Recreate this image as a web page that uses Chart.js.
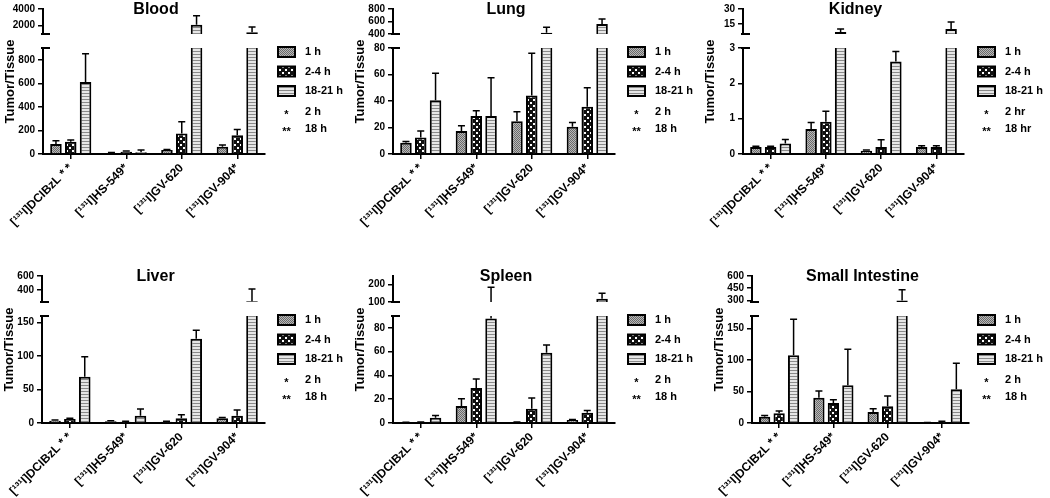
<!DOCTYPE html>
<html>
<head>
<meta charset="utf-8">
<script src="https://cdn.jsdelivr.net/npm/chart.js@4.4.0/dist/chart.umd.min.js"></script>
<style>
  body { margin: 0; background: #fff; }
  #fig { position: relative; width: 1050px; height: 498px; overflow: hidden; }
  #fig canvas { position: absolute; }
</style>
</head>
<body>
<div id="fig">
  <canvas id="blood" width="350" height="250" style="left:0;top:0"></canvas>
  <canvas id="lung" width="350" height="250" style="left:350px;top:0"></canvas>
  <canvas id="kidney" width="350" height="250" style="left:700px;top:0"></canvas>
  <canvas id="liver" width="350" height="248" style="left:0;top:250px"></canvas>
  <canvas id="spleen" width="350" height="248" style="left:350px;top:250px"></canvas>
  <canvas id="intestine" width="350" height="248" style="left:700px;top:250px"></canvas>
</div>
<script>
// --- data ---
const groups = ['[¹³¹I]DCIBzL * *', '[¹³¹I]HS-549*', '[¹³¹I]GV-620', '[¹³¹I]GV-904*'];
const seriesNames = ['1 h', '2-4 h', '18-21 h'];
const noteMarks = ['*', '**'];
const noteNames = ['2 h', '18 h'];
const kidneyNoteNames = ['2 hr', '18 hr'];

// rows: 1 h, 2-4 h, 18-21 h ; columns follow groups
const bloodMean = [[85, 8, 34, 62], [104, 20, 175, 160], [611, 14, 2100, 1200]];
const bloodSd = [[28, 4, 5, 14], [14, 5, 98, 48], [240, 20, 1100, 650]];
const bloodRange = [0, 900, 1000, 4000]; // lower min, lower max, upper min, upper max
const bloodLowTicks = [0, 200, 400, 600, 800];
const bloodHighTicks = [2000, 4000];

const lungMean = [[8.5, 17.3, 24.8, 20.6], [12.5, 28.6, 44.1, 35.6], [40.6, 28.6, 420, 560]];
const lungSd = [[1, 4, 7, 3.2], [4.8, 4, 32, 14.4], [20.4, 29, 90, 80]];
const lungRange = [0, 80, 400, 800];
const lungLowTicks = [0, 20, 40, 60, 80];
const lungHighTicks = [400, 600, 800];

const kidneyMean = [[0.2, 0.71, 0.09, 0.2], [0.2, 0.91, 0.2, 0.2], [0.3, 7, 2.62, 10]];
const kidneySd = [[0.02, 0.18, 0.02, 0.03], [0.02, 0.3, 0.2, 0.03], [0.11, 3, 0.28, 7]];
const kidneyRange = [0, 3, 5, 30];
const kidneyLowTicks = [0, 1, 2, 3];
const kidneyHighTicks = [15, 30];

const liverMean = [[3.5, 2.5, 2, 7], [6, 2, 7, 11], [69, 11, 126, 240]];
const liverSd = [[1, 1, 0.5, 1.4], [1, 0.5, 5.4, 8.4], [30, 10, 12.6, 174]];
const liverRange = [0, 160, 230, 600];
const liverLowTicks = [0, 50, 100, 150];
const liverHighTicks = [400, 600];

const spleenMean = [[0.5, 14.2, 0.6, 2.5], [0.5, 29.4, 12, 8.6], [4.4, 88, 59, 119]];
const spleenSd = [[0.2, 6.1, 0.3, 0.5], [0.3, 7.6, 9, 1.9], [2, 97, 6.6, 32]];
const spleenRange = [0, 90, 100, 250];
const spleenLowTicks = [0, 20, 40, 60, 80];
const spleenHighTicks = [100, 200];

const intestineMean = [[10, 40.3, 17.5, 0.5], [15.4, 31.8, 26.5, 1.6], [107.6, 60, 300, 53.5]];
const intestineSd = [[2, 10.7, 5.3, 0.2], [3.6, 5.2, 16.5, 1], [57.4, 57, 130, 41.5]];
const intestineRange = [0, 170, 280, 600];
const intestineLowTicks = [0, 50, 100, 150];
const intestineHighTicks = [300, 450, 600];

// --- layout of the 2 x 3 grid ---
const rows = [
  { top: 9, seg: [25, 14, 106], xAxisH: 96 },
  { top: 26, seg: [26, 14, 107], xAxisH: 75 }
];
const panels = [
  { id: 'blood', title: 'Blood', mean: bloodMean, sd: bloodSd, range: bloodRange, low: bloodLowTicks, high: bloodHighTicks, notes: noteNames, row: 0, axisX: 43, plotRight: 265 },
  { id: 'lung', title: 'Lung', mean: lungMean, sd: lungSd, range: lungRange, low: lungLowTicks, high: lungHighTicks, notes: noteNames, row: 0, axisX: 43, plotRight: 265 },
  { id: 'kidney', title: 'Kidney', mean: kidneyMean, sd: kidneySd, range: kidneyRange, low: kidneyLowTicks, high: kidneyHighTicks, notes: kidneyNoteNames, row: 0, axisX: 43, plotRight: 264 },
  { id: 'liver', title: 'Liver', mean: liverMean, sd: liverSd, range: liverRange, low: liverLowTicks, high: liverHighTicks, notes: noteNames, row: 1, axisX: 42, plotRight: 265 },
  { id: 'spleen', title: 'Spleen', mean: spleenMean, sd: spleenSd, range: spleenRange, low: spleenLowTicks, high: spleenHighTicks, notes: noteNames, row: 1, axisX: 43, plotRight: 265 },
  { id: 'intestine', title: 'Small Intestine', mean: intestineMean, sd: intestineSd, range: intestineRange, low: intestineLowTicks, high: intestineHighTicks, notes: noteNames, row: 1, axisX: 52, plotRight: 269 }
];

const FONT = '"Liberation Sans", Arial, Helvetica, sans-serif';
Chart.defaults.font.family = FONT;
Chart.defaults.color = '#000';

// fill patterns: fine grey, black with white dots, horizontal stripes
function makePattern(kind) {
  const c = document.createElement('canvas');
  const g = c.getContext('2d');
  if (kind === 0) {
    c.width = 2; c.height = 2;
    g.fillStyle = '#b8b8b8'; g.fillRect(0, 0, 2, 2);
    g.fillStyle = '#6a6a6a'; g.fillRect(0, 0, 1, 1); g.fillRect(1, 1, 1, 1);
  } else if (kind === 1) {
    c.width = 6; c.height = 6;
    g.fillStyle = '#111'; g.fillRect(0, 0, 6, 6);
    g.fillStyle = '#fff'; g.fillRect(0, 0, 2, 2); g.fillRect(3, 3, 2, 2);
  } else {
    c.width = 3; c.height = 3;
    g.fillStyle = '#e6e6e6'; g.fillRect(0, 0, 3, 3);
    g.fillStyle = '#8a8a8a'; g.fillRect(0, 0, 3, 1);
  }
  return g.createPattern(c, 'repeat');
}
const patterns = [0, 1, 2].map(makePattern);

// error bars (upper whisker only)
function drawErrorBars(chart, meta) {
  const ds = chart.data.datasets[meta.index];
  const ctx = chart.ctx;
  ctx.save();
  ctx.strokeStyle = '#000';
  ctx.lineWidth = 1.5;
  meta.data.forEach((bar, i) => {
    const yTop = meta.yScale.getPixelForValue(ds.data[i] + ds.sd[i]);
    ctx.beginPath();
    ctx.moveTo(bar.x, bar.y);
    ctx.lineTo(bar.x, yTop);
    ctx.moveTo(bar.x - 3.5, yTop);
    ctx.lineTo(bar.x + 3.5, yTop);
    ctx.stroke();
  });
  ctx.restore();
}

// each dataset is clipped to its own axis segment (broken axis)
const segmentClip = {
  id: 'segmentClip',
  beforeDatasetDraw(chart, args) {
    const y = args.meta.yScale;
    const a = chart.chartArea;
    const extra = y.id === 'yLow' ? 2 : 0;
    chart.ctx.save();
    chart.ctx.beginPath();
    chart.ctx.rect(a.left, y.top, a.right - a.left + 2, y.bottom - y.top + extra);
    chart.ctx.clip();
  },
  afterDatasetDraw(chart, args) {
    drawErrorBars(chart, args.meta);
    chart.ctx.restore();
  }
};

// title, axis title, break marks and the side legend
function makeDecor(p) {
  return {
    id: 'decor',
    afterDraw(chart) {
      const ctx = chart.ctx;
      const a = chart.chartArea;
      const hi = chart.scales.yHigh;
      const lo = chart.scales.yLow;
      ctx.save();
      ctx.fillStyle = '#000';
      ctx.strokeStyle = '#000';
      ctx.textBaseline = 'middle';

      ctx.font = 'bold 16px ' + FONT;
      ctx.textAlign = 'center';
      ctx.fillText(p.title, (a.left + a.right) / 2 + 2, hi.top + 1);

      ctx.save();
      ctx.translate(p.axisX - 33, (hi.top + lo.bottom) / 2);
      ctx.rotate(-Math.PI / 2);
      ctx.font = 'bold 13px ' + FONT;
      ctx.fillText('Tumor/Tissue', 0, 0);
      ctx.restore();

      ctx.lineWidth = 2;
      ctx.beginPath();
      [hi.bottom, lo.top].forEach(y => {
        ctx.moveTo(a.left - 2, y);
        ctx.lineTo(a.left + 7, y);
      });
      ctx.stroke();

      const lx = 278;
      const boxRows = [4, 23.5, 43];
      ctx.font = 'bold 11px ' + FONT;
      ctx.textAlign = 'left';
      seriesNames.forEach((name, i) => {
        const cy = lo.top + boxRows[i];
        ctx.fillStyle = patterns[i];
        ctx.fillRect(lx, cy - 5, 17, 10);
        ctx.lineWidth = 2;
        ctx.strokeRect(lx, cy - 5, 17, 10);
        ctx.fillStyle = '#000';
        ctx.fillText(name, lx + 27, cy);
      });
      const noteRows = [64, 81];
      p.notes.forEach((name, i) => {
        const cy = lo.top + noteRows[i];
        ctx.textAlign = 'center';
        ctx.fillText(noteMarks[i], lx + 8.5, cy + 3);
        ctx.textAlign = 'left';
        ctx.fillText(name, lx + 27, cy);
      });
      ctx.restore();
    }
  };
}

function yAxis(p, which) {
  const row = rows[p.row];
  const isLow = which === 'low';
  return {
    type: 'linear',
    position: 'left',
    stack: 'y',
    stackWeight: isLow ? row.seg[2] : row.seg[0],
    weight: isLow ? 0 : 2,
    stacked: false,
    min: isLow ? p.range[0] : p.range[2],
    max: isLow ? p.range[1] : p.range[3],
    afterBuildTicks: s => { s.ticks = (isLow ? p.low : p.high).map(v => ({ value: v })); },
    afterFit: s => { s.width = p.axisX; },
    ticks: {
      autoSkip: false,
      font: { size: 10, weight: 'bold' },
      color: '#000',
      padding: 3,
      callback: v => String(v)
    },
    grid: { drawOnChartArea: false, color: '#000', lineWidth: 1.5, tickLength: 5 },
    border: { color: '#000', width: 2 }
  };
}

panels.forEach(p => {
  const row = rows[p.row];
  const sets = [];
  ['yLow', 'yHigh'].forEach(axisId => {
    seriesNames.forEach((name, i) => {
      sets.push({
        label: name,
        data: p.mean[i],
        sd: p.sd[i],
        yAxisID: axisId,
        stack: 'g' + i,
        backgroundColor: patterns[i],
        borderColor: '#000',
        borderWidth: 2,
        categoryPercentage: 0.8,
        barPercentage: 0.78
      });
    });
  });

  new Chart(document.getElementById(p.id), {
    type: 'bar',
    data: { labels: groups, datasets: sets },
    options: {
      responsive: false,
      animation: false,
      devicePixelRatio: 1,
      layout: { padding: { left: 0, top: row.top, right: 350 - p.plotRight, bottom: 0 } },
      plugins: { legend: { display: false }, tooltip: { enabled: false } },
      scales: {
        x: {
          grid: { offset: false, drawOnChartArea: false, color: '#000', lineWidth: 1.5, tickLength: 5 },
          border: { color: '#000', width: 2 },
          ticks: { autoSkip: false, minRotation: 45, maxRotation: 45, padding: 2, color: '#000', font: { size: 12, weight: 'bold' } },
          afterFit: s => { s.height = row.xAxisH; }
        },
        yHigh: yAxis(p, 'high'),
        yGap: {
          type: 'linear',
          position: 'left',
          stack: 'y',
          stackWeight: row.seg[1],
          weight: 1,
          ticks: { display: false },
          grid: { display: false, drawTicks: false },
          border: { display: false },
          afterFit: s => { s.width = p.axisX; }
        },
        yLow: yAxis(p, 'low')
      }
    },
    plugins: [segmentClip, makeDecor(p)]
  });
});
</script>
</body>
</html>
